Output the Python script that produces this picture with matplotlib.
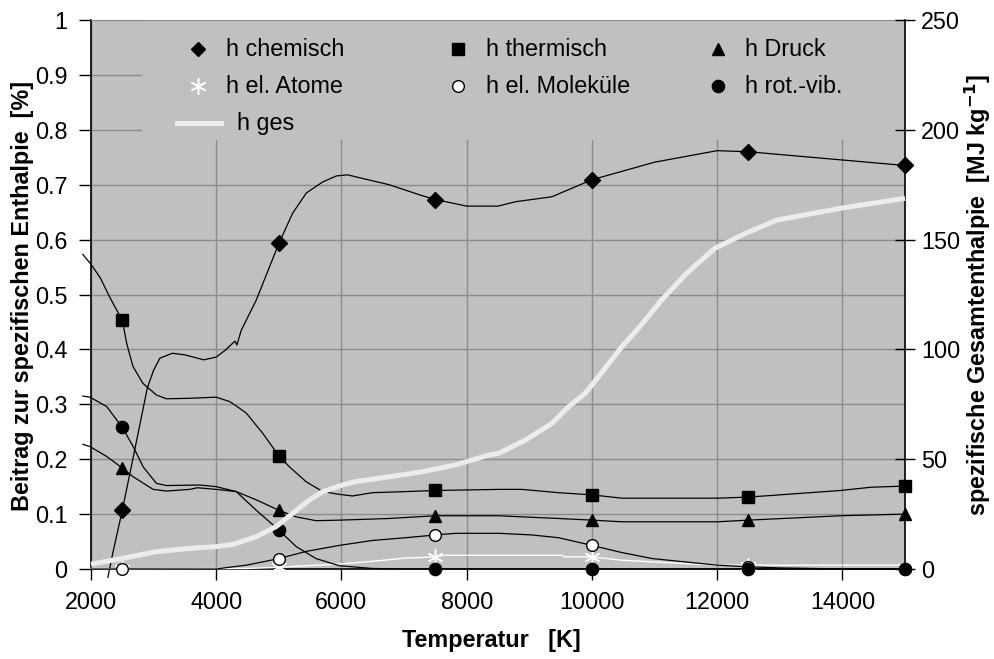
import matplotlib
matplotlib.use("Agg")
import matplotlib.pyplot as plt
from matplotlib.lines import Line2D
from matplotlib.patches import Rectangle
from matplotlib.ticker import FuncFormatter, FixedLocator

plt.rcParams['font.family'] = ['Liberation Sans', 'DejaVu Sans']
FS = 16.8

# Temperatures of the tabulated points (markers)
T_mark = [2500, 5000, 7500, 10000, 12500, 15000]

chem_mark = [0.107, 0.593, 0.673, 0.709, 0.760, 0.735]
therm_mark = [0.453, 0.206, 0.143, 0.135, 0.131, 0.151]
druck_mark = [0.184, 0.107, 0.097, 0.089, 0.089, 0.100]
atome_mark = [0.0, 0.003, 0.022, 0.022, 0.005, 0.002]
molek_mark = [0.0, 0.019, 0.062, 0.043, 0.004, 0.0]
rotvib_mark = [0.258, 0.071, 0.0, 0.0, 0.0, 0.0]

# Continuous curves of the individual contributions
chem_T = [2270, 2350, 2500, 2700, 2900, 3000, 3100, 3300, 3500, 3800, 4000, 4150,
          4250, 4300, 4330, 4400, 4640, 5000, 5220, 5440, 5700, 5920, 6100, 6240,
          6760, 7290, 7500, 8000, 8500, 8780, 9360, 10000, 11000, 12000, 12500, 15000]
chem_v = [-0.015, 0.03, 0.107, 0.218, 0.33, 0.362, 0.384, 0.393, 0.39, 0.381, 0.386, 0.399,
          0.41, 0.415, 0.408, 0.435, 0.49, 0.593, 0.648, 0.685, 0.705, 0.716, 0.718, 0.714,
          0.70, 0.68, 0.673, 0.661, 0.661, 0.669, 0.678, 0.709, 0.741, 0.762, 0.760, 0.735]

therm_T = [1870, 2000, 2150, 2300, 2500, 2570, 2670, 2830, 3045, 3205, 3576, 4000,
           4213, 4320, 4480, 4744, 5000, 5170, 5435, 5700, 5965, 6177, 6495, 7027,
           7500, 8513, 8883, 9468, 10000, 10477, 12000, 12500, 13970, 14460, 15000]
therm_v = [0.573, 0.555, 0.53, 0.495, 0.453, 0.411, 0.369, 0.338, 0.317, 0.310, 0.311, 0.313,
           0.305, 0.297, 0.284, 0.247, 0.206, 0.186, 0.159, 0.141, 0.136, 0.133, 0.139, 0.141,
           0.143, 0.145, 0.145, 0.139, 0.135, 0.129, 0.129, 0.131, 0.143, 0.149, 0.151]

druck_T = [1870, 1984, 2250, 2500, 2674, 2993, 3205, 3576, 3700, 4000, 4320, 4639,
           5000, 5275, 5594, 5965, 6761, 7500, 8513, 8883, 9468, 10000, 10477, 12000,
           12500, 13970, 15000]
druck_v = [0.227, 0.223, 0.205, 0.184, 0.168, 0.145, 0.142, 0.145, 0.148, 0.145, 0.141, 0.126,
           0.107, 0.095, 0.088, 0.089, 0.092, 0.097, 0.097, 0.095, 0.092, 0.089, 0.086, 0.086,
           0.089, 0.097, 0.100]

atome_T = [2000, 2500, 4500, 5000, 5435, 5965, 6495, 7027, 7500, 7640, 8883, 9520,
           9570, 10000, 10477, 10965, 12000, 12500, 15000]
atome_v = [0.001, 0.0, 0.001, 0.003, 0.006, 0.009, 0.014, 0.020, 0.022, 0.025, 0.025, 0.025,
           0.022, 0.022, 0.016, 0.013, 0.007, 0.007, 0.007]

molek_T = [2000, 2500, 4000, 4265, 4480, 4744, 5000, 5435, 5965, 6495, 7027, 7500,
           7823, 8513, 9043, 9468, 10000, 10477, 10965, 12000, 12500, 13000, 14000, 15000]
molek_v = [0.0, 0.0, 0.0, 0.004, 0.007, 0.013, 0.019, 0.032, 0.043, 0.052, 0.057, 0.062,
           0.065, 0.065, 0.062, 0.057, 0.043, 0.030, 0.019, 0.007, 0.004, 0.002, 0.0, 0.0]

rotvib_T = [1870, 1984, 2250, 2500, 2674, 2833, 3045, 3205, 3736, 4000, 4213, 4320,
            4639, 5000, 5275, 5594, 5965, 6495, 7000, 15000]
rotvib_v = [0.315, 0.313, 0.296, 0.258, 0.223, 0.186, 0.156, 0.152, 0.153, 0.150, 0.144, 0.141,
            0.107, 0.071, 0.041, 0.019, 0.006, 0.001, 0.0, 0.0]

# Total specific enthalpy [MJ/kg]
ges_T = [2000, 2515, 3045, 3576, 4000, 4266, 4639, 4957, 5223, 5487, 5700, 6018,
         6230, 6761, 7291, 7822, 8352, 8513, 8937, 9361, 9627, 9893, 10000, 10477,
         10742, 11114, 11511, 11963, 12457, 12955, 13959, 15000]
ges_v = [2.2, 4.9, 7.9, 9.4, 10.2, 11.2, 14.7, 19.3, 25.4, 31.4, 35.2, 38.3,
         39.8, 42.0, 44.3, 47.4, 51.9, 52.7, 58.7, 66.3, 73.9, 80.0, 83.8, 101.2,
         109.6, 122.5, 134.6, 146.0, 152.9, 158.9, 164.2, 168.8]

x_ticks = [2000, 4000, 6000, 8000, 10000, 12000, 14000]
y_ticks = [0, 0.1, 0.2, 0.3, 0.4, 0.5, 0.6, 0.7, 0.8, 0.9, 1.0]
y2_ticks = [0, 50, 100, 150, 200, 250]

BG = '#c0c0c0'
GRID = '#8c8c8c'
LIGHT = '#ececec'

fig = plt.figure(figsize=(9.94, 6.59), dpi=100)
ax = fig.add_axes([91 / 994, 90 / 659, 814 / 994, 549 / 659])
ax.set_facecolor(BG)
ax.set_xlim(2000, 15000)
ax.set_ylim(0, 1)
ax.set_axisbelow(True)
ax.grid(True, color=GRID, lw=1.0)

lw = 0.9
ms_style = dict(ls='none', clip_on=False, zorder=5)

ax.plot(chem_T, chem_v, color='black', lw=lw, clip_on=False, zorder=4)
ax.plot(T_mark, chem_mark, marker='D', ms=8.2, color='black', **ms_style)

ax.plot(therm_T, therm_v, color='black', lw=lw, clip_on=False, zorder=4)
ax.plot(T_mark, therm_mark, marker='s', ms=9.0, color='black', **ms_style)

ax.plot(druck_T, druck_v, color='black', lw=lw, clip_on=False, zorder=4)
ax.plot(T_mark, druck_mark, marker='^', ms=9.0, color='black', **ms_style)

ax.plot(atome_T, atome_v, color='white', lw=1.0, clip_on=False, zorder=4)
ax.plot(T_mark, atome_mark, marker=(6, 2, 0), ms=11.5, mec='white', mew=1.1, **ms_style)

ax.plot(molek_T, molek_v, color='black', lw=lw, clip_on=False, zorder=4)
ax.plot(T_mark, molek_mark, marker='o', ms=8.4, mfc='white', mec='black', mew=1.0, **ms_style)

ax.plot(rotvib_T, rotvib_v, color='black', lw=lw, clip_on=False, zorder=4)
ax.plot(T_mark, rotvib_mark, marker='o', ms=8.8, color='black', **ms_style)

ax.xaxis.set_major_locator(FixedLocator(x_ticks))
ax.yaxis.set_major_locator(FixedLocator(y_ticks))
ax.yaxis.set_major_formatter(FuncFormatter(
    lambda v, p: '0' if abs(v) < 1e-9 else ('1' if abs(v - 1) < 1e-9 else f'{v:.1f}')))
ax.tick_params(axis='x', direction='out', length=8, width=1, labelsize=FS, pad=8)
ax.tick_params(axis='y', direction='out', length=9, width=1, labelsize=FS, pad=8)
for s in ('left', 'bottom'):
    ax.spines[s].set_color('black')
    ax.spines[s].set_linewidth(1.2)
ax.spines['top'].set_color(GRID)
ax.spines['right'].set_visible(False)

# Secondary axis: total specific enthalpy
ax2 = ax.twinx()
ax2.set_ylim(0, 250)
ax2.plot(ges_T, ges_v, color=LIGHT, lw=3.6, solid_capstyle='butt', solid_joinstyle='round',
         clip_on=False, zorder=6)
ax2.yaxis.set_major_locator(FixedLocator(y2_ticks))
ax2.tick_params(axis='y', direction='inout', length=15, width=1, labelsize=FS, pad=4)
for s in ('left', 'top', 'bottom'):
    ax2.spines[s].set_visible(False)
ax2.spines['right'].set_color('black')
ax2.spines['right'].set_linewidth(1.2)

# Legend block drawn on the plot area
ax.add_patch(Rectangle((0.0627, 0.781), 0.9373, 0.219, transform=ax.transAxes,
                       facecolor=BG, edgecolor='none', zorder=2))
leg_cols_marker = [0.1314, 0.4509, 0.7703]
leg_cols_text = [0.1658, 0.4853, 0.8034]
leg_rows = [0.947, 0.8796, 0.8122]
legend_items = [
    (0, 0, 'h chemisch', dict(marker='D', ms=7.6, color='black')),
    (1, 0, 'h thermisch', dict(marker='s', ms=9.0, color='black')),
    (2, 0, 'h Druck', dict(marker='^', ms=9.0, color='black')),
    (0, 1, 'h el. Atome', dict(marker=(6, 2, 0), ms=11.5, mec='white', mew=1.1)),
    (1, 1, 'h el. Moleküle', dict(marker='o', ms=8.4, mfc='white', mec='black', mew=1.0)),
    (2, 1, 'h rot.-vib.', dict(marker='o', ms=8.8, color='black')),
]
for c, r, label, style in legend_items:
    ax.add_line(Line2D([leg_cols_marker[c]], [leg_rows[r]], ls='none', transform=ax.transAxes,
                       zorder=7, **style))
    ax.text(leg_cols_text[c], leg_rows[r], label, transform=ax.transAxes, fontsize=FS,
            va='center', ha='left', zorder=7)
ax.add_line(Line2D([0.1057, 0.1597], [leg_rows[2], leg_rows[2]], color=LIGHT, lw=3.6,
                   transform=ax.transAxes, zorder=7))
ax.text(0.1794, leg_rows[2], 'h ges', transform=ax.transAxes, fontsize=FS,
        va='center', ha='left', zorder=7)

# Axis titles
fig.text(491 / 994, 1 - 640 / 659, 'Temperatur   [K]', fontsize=FS, fontweight='bold',
         ha='center', va='center')
fig.text(23 / 994, 1 - 296 / 659, 'Beitrag zur spezifischen Enthalpie  [%]', fontsize=FS,
         fontweight='bold', rotation=90, ha='center', va='center')
fig.text(978 / 994, 1 - 295 / 659, r'spezifische Gesamtenthalpie  [MJ kg$^{\mathbf{-1}}$]',
         fontsize=FS, fontweight='bold', rotation=90, ha='center', va='center')

fig.savefig('out.png', dpi=100, facecolor='white')
